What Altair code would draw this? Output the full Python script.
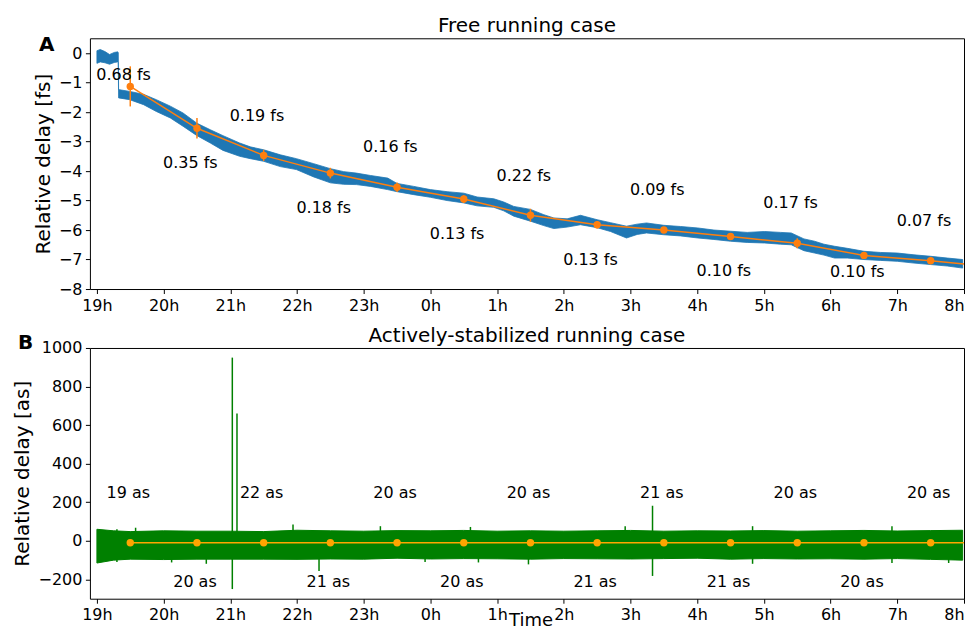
import altair as alt
import pandas as pd

FONT = "DejaVu Sans"

# ---------------- Panel A: free running case (fs) ----------------
blue_t = [0.00, 0.05, 0.12, 0.19, 0.26, 0.31, 0.32, 0.325, 0.49, 0.70, 0.89, 1.10, 1.29, 1.50,
          1.70, 1.89, 2.14, 2.30, 2.50, 2.75, 2.99, 3.25, 3.50, 3.70, 3.89, 4.10, 4.36, 4.50,
          4.75, 5.00, 5.25, 5.50, 5.70, 5.95, 6.10, 6.25, 6.50, 6.70, 6.85, 7.05, 7.25, 7.50,
          7.70, 7.94, 8.10, 8.24, 8.50, 8.75, 9.01, 9.25, 9.50, 9.75, 10.01, 10.25, 10.41,
          10.60, 10.76, 10.90, 11.06, 11.25, 11.50, 11.75, 12.00, 12.25, 12.50, 12.75, 12.98]
blue_lo = [-0.35, -0.30, -0.33, -0.38, -0.32, -0.30, -0.32, -1.52, -1.58, -1.75, -1.98, -2.20, -2.48, -2.80,
           -3.05, -3.30, -3.50, -3.58, -3.67, -3.85, -3.95, -4.20, -4.40, -4.45, -4.46, -4.52, -4.63, -4.70,
           -4.80, -4.89, -5.00, -5.08, -5.18, -5.23, -5.35, -5.53, -5.70, -5.85, -5.95, -5.90, -5.82, -5.92,
           -6.05, -6.27, -6.15, -6.10, -6.16, -6.20, -6.27, -6.32, -6.38, -6.42, -6.44, -6.48, -6.50,
           -6.70, -6.78, -6.85, -6.95, -6.95, -7.00, -7.03, -7.06, -7.12, -7.17, -7.22, -7.29]
blue_hi = [0.08, 0.12, 0.05, -0.05, 0.02, 0.04, 0.02, -1.24, -1.30, -1.40, -1.58, -1.80, -2.03, -2.38,
           -2.60, -2.80, -3.05, -3.18, -3.28, -3.45, -3.58, -3.75, -3.92, -4.02, -4.07, -4.15, -4.24, -4.42,
           -4.52, -4.63, -4.70, -4.75, -4.88, -4.94, -5.05, -5.20, -5.30, -5.48, -5.59, -5.62, -5.50, -5.65,
           -5.75, -5.87, -5.80, -5.76, -5.84, -5.88, -5.93, -6.00, -6.04, -6.08, -6.05, -6.08, -6.10,
           -6.30, -6.38, -6.48, -6.55, -6.62, -6.72, -6.76, -6.78, -6.84, -6.89, -6.95, -7.00]

avg_t = [0.5, 1.5, 2.5, 3.5, 4.5, 5.5, 6.5, 7.5, 8.5, 9.5, 10.5, 11.5, 12.5]
avg_fs = [-1.13, -2.55, -3.47, -4.07, -4.55, -4.95, -5.50, -5.82, -6.00, -6.22, -6.45, -6.86, -7.04]
std_fs = [0.68, 0.35, 0.19, 0.18, 0.16, 0.13, 0.22, 0.13, 0.09, 0.10, 0.17, 0.10, 0.07]
label_fs_y = [-0.76, -3.73, -2.15, -5.25, -3.20, -6.12, -4.16, -7.00, -4.65, -7.38, -5.10, -7.42, -5.70]
line_end_t = 13.0
line_end_fs = -7.15

# ---------------- Panel B: actively-stabilized case (as) ----------------
green_t = [0.00, 0.25, 0.50, 1.00, 1.50, 2.00, 2.50, 3.00, 3.50, 4.00, 4.50, 5.00, 5.50, 6.00,
           6.50, 7.00, 7.50, 8.00, 8.50, 9.00, 9.50, 10.00, 10.50, 11.00, 11.50, 12.00, 12.50, 12.98]
green_lo = [-115, -100, -95, -97, -95, -95, -95, -96, -94, -95, -90, -94, -92, -93,
            -95, -92, -93, -94, -92, -90, -95, -92, -94, -93, -95, -92, -96, -100]
green_hi = [60, 52, 48, 52, 50, 50, 48, 55, 52, 50, 53, 52, 54, 50,
            52, 50, 52, 54, 50, 52, 51, 53, 50, 52, 54, 51, 53, 55]

spike_t = [2.03, 2.10, 3.33, 8.33, 0.30, 0.58, 1.12, 1.64, 2.94, 4.25, 4.92, 5.60, 5.72,
           6.47, 7.92, 9.83, 11.92, 12.77]
spike_lo = [-250, -60, -156, -182, -110, 0, -112, -119, 0, 0, -110, 0, -112,
            -122, 0, -119, -115, -115]
spike_hi = [950, 660, 0, 182, 60, 68, 0, 0, 85, 76, 0, 72, 0,
            0, 76, 76, 76, 0]

avg_as = [-10, -10, -10, -10, -10, -10, -10, -10, -10, -10, -10, -10, -10]
std_as = [19, 20, 22, 21, 20, 20, 20, 21, 21, 21, 20, 20, 20]
label_as_y = [250, -215, 250, -215, 250, -215, 250, -215, 250, -215, 250, -215, 250]
line_end_as = -10

hour_ticks = list(range(14))
fs_ticks = [-8, -7, -6, -5, -4, -3, -2, -1, 0]
as_ticks = [-200, 0, 200, 400, 600, 800, 1000]

# ---------------- tables ----------------
blue_df = pd.DataFrame({"t": blue_t, "lo": blue_lo, "hi": blue_hi})
avg_fs_df = pd.DataFrame({"t": avg_t, "v": avg_fs, "s": std_fs})
avg_fs_df["lo"] = avg_fs_df["v"] - avg_fs_df["s"]
avg_fs_df["hi"] = avg_fs_df["v"] + avg_fs_df["s"]
line_fs_df = pd.DataFrame({"t": avg_t + [line_end_t], "lo": avg_fs + [line_end_fs]})
pts_fs_df = pd.DataFrame({"t": avg_t, "lo": avg_fs})
lab_fs_df = pd.DataFrame({"t": [a - 0.1 for a in avg_t], "lo": label_fs_y,
                          "txt": [f"{s:.2f} fs" for s in std_fs]})

green_df = pd.DataFrame({"t": green_t, "lo": green_lo, "hi": green_hi})
spike_df = pd.DataFrame({"t": spike_t, "lo": spike_lo, "hi": spike_hi})
pts_as_df = pd.DataFrame({"t": avg_t, "lo": avg_as})
line_as_df = pd.DataFrame({"t": avg_t + [line_end_t], "lo": avg_as + [line_end_as]})
lab_as_df = pd.DataFrame({"t": [a - 0.03 for a in avg_t], "lo": label_as_y,
                          "txt": [f"{s} as" for s in std_as]})

W, H = 875, 251
BLUE, ORANGE, ORANGE2, GREEN = "#1f77b4", "#ff7f0e", "#ffa500", "#008000"

xscale = alt.Scale(domain=[-0.105, 13], nice=False, zero=False)


def xaxis(title=None):
    kw = dict(values=hour_ticks, labelExpr="((datum.value + 19) % 24) + 'h'",
              labelFlush=True, labelOverlap=False)
    if title:
        kw.update(title=title, titleFont=FONT, titleFontSize=18, titleFontWeight="normal",
                  titleColor="black", titleBaseline="alphabetic", titleAlign="center",
                  titleX=441, titleY=27)
    else:
        kw.update(title=None)
    return alt.Axis(**kw)


def yaxis(title, values, tx):
    return alt.Axis(values=values, title=title, format="d", labelOverlap=False, tickCount=len(values),
                    titleFont=FONT, titleFontSize=20,
                    titleFontWeight="normal", titleColor="black", titleAngle=-90,
                    titleAlign="center", titleBaseline="alphabetic", titleX=tx, titleY=H / 2)


def text_at(s, dx, dy, bold=False, align="left"):
    return alt.Chart(pd.DataFrame({"s": [s]})).mark_text(
        font=FONT, fontSize=20, fontWeight="bold" if bold else "normal", align=align,
        baseline="alphabetic", color="black").encode(x=alt.value(dx), y=alt.value(dy), text="s:N")


# ---------------- Panel A ----------------
yA = alt.Scale(domain=[-8, 0.5], nice=False, zero=False)
xA = alt.X("t:Q", scale=xscale, axis=xaxis())
yAenc = alt.Y("lo:Q", scale=yA, axis=yaxis("Relative delay [fs]", fs_ticks, -40))

bandA = alt.Chart(blue_df).mark_area(color=BLUE, stroke=BLUE, strokeWidth=0.8).encode(
    x=xA, y=yAenc, y2="hi:Q")
errA = alt.Chart(avg_fs_df).mark_rule(color=ORANGE, strokeWidth=1.5).encode(
    x=xA, y=yAenc, y2="hi:Q")
lineA = alt.Chart(line_fs_df).mark_line(color=ORANGE, strokeWidth=1.5).encode(x=xA, y=yAenc)
ptsA = alt.Chart(pts_fs_df).mark_circle(color=ORANGE, size=55, opacity=1).encode(x=xA, y=yAenc)
txtA = alt.Chart(lab_fs_df).mark_text(font=FONT, fontSize=16, color="black",
                                      align="center", baseline="middle").encode(
    x=xA, y=yAenc, text="txt:N")

top = alt.layer(bandA, errA, lineA, ptsA, txtA,
                text_at("A", -51, 13, bold=True),
                text_at("Free running case", W / 2, -6, align="center")).properties(width=W, height=H)

# ---------------- Panel B ----------------
yB = alt.Scale(domain=[-300, 1000], nice=False, zero=False)
xB = alt.X("t:Q", scale=xscale, axis=xaxis("Time"))
yBenc = alt.Y("lo:Q", scale=yB, axis=yaxis("Relative delay [as]", as_ticks, -61))

bandB = alt.Chart(green_df).mark_area(color=GREEN, stroke=GREEN, strokeWidth=1).encode(
    x=xB, y=yBenc, y2="hi:Q")
spB = alt.Chart(spike_df).mark_rule(color=GREEN, strokeWidth=1.5).encode(
    x=xB, y=yBenc, y2="hi:Q")
lineB = alt.Chart(line_as_df).mark_line(color=ORANGE2, strokeWidth=1.5).encode(x=xB, y=yBenc)
ptsB = alt.Chart(pts_as_df).mark_circle(color=ORANGE2, size=55, opacity=1).encode(x=xB, y=yBenc)
txtB = alt.Chart(lab_as_df).mark_text(font=FONT, fontSize=16, color="black",
                                      align="center", baseline="middle").encode(
    x=xB, y=yBenc, text="txt:N")

bottom = alt.layer(bandB, spB, lineB, ptsB, txtB,
                   text_at("B", -72, 1, bold=True),
                   text_at("Actively-stabilized running case", W / 2, -6, align="center")
                   ).properties(width=W, height=H)

chart = alt.vconcat(top, bottom, spacing=59, bounds="flush").properties(
    padding={"left": 4, "top": 7, "right": 0, "bottom": 0}
).configure_view(stroke="black", strokeWidth=1).configure_axis(
    labelFont=FONT, labelFontSize=16, labelColor="black", tickColor="black",
    tickSize=4.5, labelPadding=3.5, grid=False, domain=False
)

chart.save("out.html", embed_options={"renderer": "svg", "actions": False})
